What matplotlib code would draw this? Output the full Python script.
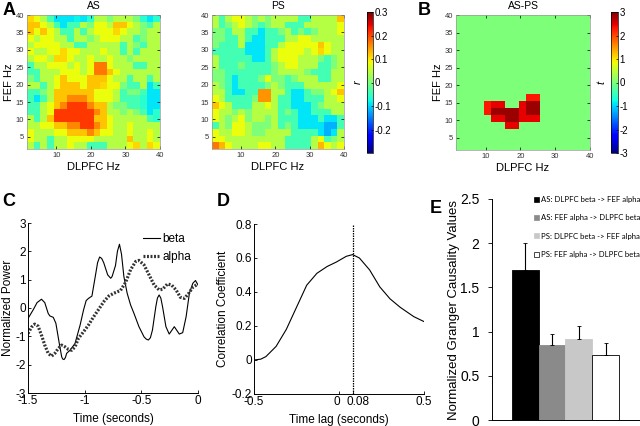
import numpy as np
import matplotlib
import matplotlib.pyplot as plt
import matplotlib.transforms as mtransforms
from matplotlib.patches import Patch

matplotlib.use('Agg')
plt.rcParams['font.family'] = ['Liberation Sans', 'DejaVu Sans']
plt.rcParams['axes.unicode_minus'] = False

# --- A: correlation maps (r), rows from FEF 40 Hz (top) down to 2 Hz, in hundredths
map_edges = np.linspace(1.5, 40, 21)
as_r = np.array([
    [11, 8, 4, -4, -9, -9, -9, -8, -9, -6, 4, 4, 0, 4, 4, 4, 0, -6, -9, -6],
    [12, 12, 8, 4, -4, -9, -4, -4, 4, 0, 8, 8, 4, 12, 12, 8, 4, 0, -4, 4],
    [12, 8, 12, 8, 4, -4, -4, 4, -4, 4, 8, 8, 8, 11, 8, 4, 4, 0, 4, 4],
    [8, 4, 8, 8, 4, 4, -4, 4, 4, 0, 4, 8, 8, 8, 4, 4, -4, 0, 4, 4],
    [4, 8, 8, 8, 8, 4, 4, -4, -4, 4, 4, 4, 4, 4, -4, 4, 0, -4, 4, 4],
    [8, 4, 4, 8, 8, 11, 8, 8, 4, 4, 4, 8, 4, 4, -4, 4, -4, 4, 4, 4],
    [4, 8, 8, 4, 11, 11, 8, 4, 4, 8, 4, 4, 8, 4, 4, 0, 4, 4, 4, 4],
    [-4, 4, 4, 8, 8, 8, 4, 8, 4, 8, 17, 17, 8, 4, 4, 4, -4, -4, 4, 4],
    [-4, -4, 4, 4, 4, 8, 8, 8, 4, 8, 17, 17, 12, 8, 4, 4, 4, 4, 4, 4],
    [0, -4, 4, 4, 8, 12, 8, 8, 8, 12, 12, 12, 8, 4, 4, -4, 4, 4, -4, 4],
    [4, 4, -4, 4, 8, 12, 12, 12, 8, 12, 12, 11, 8, 8, 0, -4, -4, 4, -9, -4],
    [-4, -4, 0, 4, 12, 12, 12, 12, 12, 12, 8, 8, 8, 4, -4, 0, 0, -4, -9, -9],
    [-4, -9, -4, 4, 12, 12, 16, 16, 16, 12, 8, 8, 8, 4, -4, -4, -4, -6, -9, -9],
    [-4, -4, 4, 8, 12, 16, 21, 21, 21, 16, 12, 12, 4, 0, 0, -4, -4, -6, -9, -9],
    [-4, -4, 4, 8, 21, 21, 21, 21, 21, 21, 16, 12, 4, 4, 0, 4, 0, -4, -9, -6],
    [4, -4, 4, 12, 21, 21, 21, 21, 21, 21, 12, 12, 8, 4, 4, 4, 4, 4, -4, -6],
    [4, 4, 8, 8, 12, 12, 16, 16, 21, 21, 16, 12, 8, 4, 4, 8, 4, 4, 4, 4],
    [8, 4, 4, 4, 8, 8, 12, 12, 12, 16, 12, 8, 8, 4, 4, 8, 4, 4, 8, 4],
    [8, 4, 4, -4, 4, 4, 8, 8, 8, 8, 4, 4, 4, 4, 4, 12, 4, 4, 8, 4],
    [4, -4, 4, -4, 4, 4, 8, 4, 4, -4, -4, -4, 4, 4, 4, 8, 11, 4, 11, 8],
]) / 100.0
ps_r = np.array([
    [4, -4, 4, 8, 8, 4, 0, 4, 0, 4, 4, 4, 4, -4, -4, 4, 4, 4, 4, 12],
    [4, -4, 0, 4, 8, 4, 0, -4, 0, 4, 4, -4, -4, -4, 4, 4, 4, 4, 4, 8],
    [0, 0, -4, 4, 4, -4, -4, -9, -4, -4, 0, 4, -4, 0, -4, 0, 4, 4, 4, 8],
    [0, 0, -4, -4, 4, -4, -9, -9, -4, -4, -4, 4, 4, 8, 8, 4, 4, 4, 4, 4],
    [0, -4, -4, -4, 4, -9, -9, -9, -4, -4, 4, 8, 8, 8, 8, 8, 12, 8, 4, 4],
    [-4, -4, -4, -4, -4, -9, -9, -9, -4, 4, 8, 8, 8, 8, 4, 8, 11, 8, 4, 4],
    [4, -4, -4, -4, -4, -4, -9, -9, -4, 4, 8, 8, 8, 4, 4, 4, 0, -4, 0, 4],
    [4, -4, -4, -4, 0, -4, -4, -4, -4, 0, 4, 8, 8, 4, 4, 4, -4, -4, 0, 4],
    [0, 0, -4, -4, -4, -4, -4, -4, -4, 0, 4, 4, 4, 4, 0, -4, -4, -4, 4, 4],
    [0, 0, -4, -9, -4, -4, -4, 0, 8, 0, 0, -4, 0, 4, 4, 4, -4, -4, 4, 4],
    [4, 0, -4, -9, -4, -4, -4, -4, 0, 4, 0, -4, -4, -4, 4, 4, 4, 4, 4, 8],
    [4, 4, -4, -9, -9, -4, -4, 15, 15, 4, 4, -4, -9, -9, -4, 0, 0, 4, 8, 12],
    [8, 4, -4, -4, -4, -4, 0, 15, 15, 4, -4, -4, -9, -9, -4, -4, -4, 4, 4, 8],
    [12, 8, 4, -4, -4, -4, 4, 4, 8, 4, -4, -4, -9, -9, -9, -4, 0, 4, 4, 4],
    [8, 4, 4, 0, 4, 0, 4, 4, 4, 4, -4, 0, -4, -9, -9, -4, -4, -4, 4, 4],
    [8, 4, 0, 4, 8, 0, 4, 4, 0, 4, -4, -4, -4, -9, -9, -9, -4, -9, -9, -4],
    [-4, 4, 0, 8, 8, 4, 0, 0, 0, 4, -4, 0, -4, -9, -9, -9, -9, -12, -12, -4],
    [8, 4, 4, 8, 8, 4, 0, 0, 4, 4, 4, 4, -4, -4, -4, -4, -9, -12, -9, 4],
    [8, 8, 4, 4, 4, 4, 4, 4, 4, 4, 4, -4, -4, -4, -4, 4, 8, -4, 0, 4],
    [17, 13, 8, 4, 4, 4, 4, 8, 8, 4, 4, -4, -4, -4, -4, 4, 13, 8, 4, 8],
]) / 100.0

# --- B: AS-PS t map, 2 Hz bins; only significant bins are non-zero
diff_edges = np.arange(1.5, 42.0, 2.0)
sig_dlpfc = [22.5, 24.5, 10.5, 12.5, 14.5, 20.5, 22.5, 24.5,
             10.5, 12.5, 14.5, 16.5, 18.5, 20.5, 22.5, 24.5,
             12.5, 14.5, 16.5, 18.5, 20.5, 22.5, 24.5, 16.5, 18.5]
sig_fef = [16.5, 16.5, 14.5, 14.5, 14.5, 14.5, 14.5, 14.5,
           12.5, 12.5, 12.5, 12.5, 12.5, 12.5, 12.5, 12.5,
           10.5, 10.5, 10.5, 10.5, 10.5, 10.5, 10.5, 8.5, 8.5]
sig_t = [2.3, 2.3, 2.3, 2.45, 2.45, 2.45, 2.85, 2.85,
         2.3, 2.85, 2.85, 2.85, 2.85, 2.45, 2.85, 2.85,
         2.45, 2.45, 2.85, 2.85, 2.45, 2.45, 2.45, 2.45, 2.45]

# --- C: normalized power
beta_t = [-1.5, -1.455, -1.42, -1.381, -1.352, -1.322, -1.307, -1.277, -1.254,
          -1.224, -1.203, -1.194, -1.182, -1.17, -1.159, -1.129, -1.085, -1.04,
          -1.01, -0.987, -0.966, -0.936, -0.907, -0.886, -0.868, -0.85, -0.832,
          -0.797, -0.77, -0.758, -0.728, -0.711, -0.693, -0.675, -0.654, -0.625,
          -0.595, -0.565, -0.521, -0.476, -0.456, -0.438, -0.42, -0.402, -0.372,
          -0.358, -0.343, -0.328, -0.313, -0.283, -0.254, -0.209, -0.165, -0.135,
          -0.105, -0.076, -0.046, -0.022, 0.0]
beta_v = [-0.37, -0.07, 0.19, 0.31, 0.19, -0.19, -0.28, -0.33, -0.54,
          -1.25, -1.72, -1.8, -1.82, -1.75, -1.6, -1.49, -1.25, -0.6,
          -0.07, 0.26, 0.34, 0.42, 1.1, 1.6, 1.8, 1.75, 1.6,
          1.17, 1.05, 1.11, 1.5, 2.0, 2.25, 1.9, 1.11, 0.52,
          0.11, -0.19, -0.66, -1.02, -1.1, -1.13, -1.05, -0.78, 0.05,
          0.35, 0.46, 0.35, 0.05, -0.66, -0.92, -0.66, -0.92, -0.87,
          -0.31, 0.52, 0.87, 0.97, 0.81]
alpha_t = [-1.5, -1.47, -1.441, -1.411, -1.381, -1.352, -1.322, -1.292, -1.263,
           -1.233, -1.203, -1.174, -1.144, -1.114, -1.085, -1.055, -1.01, -0.966,
           -0.921, -0.877, -0.832, -0.788, -0.743, -0.684, -0.639, -0.595, -0.55,
           -0.521, -0.476, -0.432, -0.387, -0.343, -0.313, -0.269, -0.233, -0.194,
           -0.156, -0.12, -0.085, -0.046, 0.0]
alpha_v = [-0.9, -0.68, -0.57, -0.64, -0.96, -1.31, -1.6, -1.7, -1.6,
           -1.43, -1.31, -1.37, -1.46, -1.49, -1.37, -1.07, -0.84, -0.6,
           -0.31, -0.05, 0.22, 0.42, 0.52, 0.62, 0.9, 1.35, 1.64,
           1.68, 1.52, 1.17, 0.81, 0.64, 0.66, 0.85, 0.81, 0.64,
           0.38, 0.34, 0.5, 0.73, 0.85]

# --- D: cross-correlation
lag_s = [-0.5, -0.46, -0.43, -0.37, -0.31, -0.25, -0.19, -0.13, -0.07, -0.016,
         0.043, 0.08, 0.12, 0.18, 0.24, 0.3, 0.36, 0.44, 0.5]
corr_v = [0.0, 0.005, 0.02, 0.08, 0.18, 0.31, 0.44, 0.51, 0.55, 0.576,
          0.61, 0.62, 0.6, 0.53, 0.43, 0.36, 0.31, 0.255, 0.226]
peak_lag = 0.08

# --- E: Granger causality
gc_labels = ['AS: DLPFC beta -> FEF alpha', 'AS: FEF alpha -> DLPFC beta',
             'PS: DLPFC beta -> FEF alpha', 'PS: FEF alpha -> DLPFC beta']
gc_vals = [1.7, 0.85, 0.92, 0.74]
gc_err = [0.3, 0.12, 0.14, 0.13]
gc_colors = ['black', '#8a8a8a', '#c8c8c8', 'white']

W, H = 640, 426
fig = plt.figure(figsize=(6.4, 4.26), dpi=100)


def px_axes(x0, y0, x1, y1):
    return fig.add_axes([x0 / W, 1 - y1 / H, (x1 - x0) / W, (y1 - y0) / H])


def style_map(ax, title):
    ax.set_xlim(1.5, 40)
    ax.set_ylim(1.5, 40)
    ax.set_xticks([10, 20, 30, 40])
    ax.set_yticks([5, 10, 15, 20, 25, 30, 35, 40])
    ax.tick_params(direction='in', length=2, width=0.5, labelsize=5.5,
                   labelcolor='#333333', pad=2, top=True, right=True)
    for s in ax.spines.values():
        s.set_color('#999999')
        s.set_linewidth(0.5)
    ax.set_title(title, fontsize=7.5, pad=4)
    ax.set_xlabel('DLPFC Hz', fontsize=8, labelpad=2)
    ax.set_ylabel('FEF Hz', fontsize=8, labelpad=1)


def style_cbar(cb, ticks, labels, name):
    cb.set_ticks(ticks)
    cb.set_ticklabels(labels)
    cb.ax.tick_params(labelsize=7, length=1.5, width=0.5, direction='in', pad=1)
    cb.outline.set_linewidth(0.5)
    cb.ax.yaxis.set_label_position('left')
    cb.ax.set_ylabel(name, fontsize=8, style='italic', labelpad=3)


ax_as = px_axes(27, 15, 160, 149)
m1 = ax_as.pcolormesh(map_edges, map_edges, as_r[::-1], cmap='jet', vmin=-0.3, vmax=0.3)
style_map(ax_as, 'AS')

ax_ps = px_axes(212, 15, 344, 149)
ax_ps.pcolormesh(map_edges, map_edges, ps_r[::-1], cmap='jet', vmin=-0.3, vmax=0.3)
style_map(ax_ps, 'PS')
ax_ps.set_ylabel('')

cax1 = px_axes(367, 12, 373, 153)
cb1 = fig.colorbar(m1, cax=cax1)
style_cbar(cb1, [-0.2, -0.1, 0, 0.1, 0.2, 0.3],
           ['-0.2', '-0.1', '0', '0.1', '0.2', '0.3'], 'r')

diff_t = np.zeros((20, 20))
centers = diff_edges[:-1] + 1.0
for xd, yf, tv in zip(sig_dlpfc, sig_fef, sig_t):
    diff_t[np.argmin(abs(centers - yf)), np.argmin(abs(centers - xd))] = tv
ax_b = px_axes(456, 15, 590, 150)
m2 = ax_b.pcolormesh(diff_edges, diff_edges, diff_t, cmap='jet', vmin=-3, vmax=3)
style_map(ax_b, 'AS-PS')

cax2 = px_axes(611, 12, 618, 153)
cb2 = fig.colorbar(m2, cax=cax2)
style_cbar(cb2, [-3, -2, -1, 0, 1, 2, 3],
           ['-3', '-2', '-1', '0', '1', '2', '3'], 't')


def style_line_ax(ax):
    ax.spines['top'].set_visible(False)
    ax.spines['right'].set_visible(False)
    for s in ('left', 'bottom'):
        ax.spines[s].set_linewidth(0.7)
    ax.tick_params(direction='in', length=2.5, width=0.6, labelsize=8.5, pad=1.5)


ax_c = px_axes(28, 223, 198, 393)
ax_c.plot(beta_t, beta_v, color='black', lw=0.8, label='beta')
ax_c.plot(alpha_t, alpha_v, color='#333333', lw=2.3, ls=(0, (0.6, 0.5)), label='alpha')
ax_c.set_xlim(-1.5, 0)
ax_c.set_ylim(-3, 3)
ax_c.set_xticks([-1.5, -1, -0.5, 0])
ax_c.set_xticklabels(['-1.5', '-1', '-0.5', '0'])
ax_c.set_yticks([-3, -2, -1, 0, 1, 2, 3])
style_line_ax(ax_c)
ax_c.set_xlabel('Time (seconds)', fontsize=8.5, labelpad=4)
ax_c.set_ylabel('Normalized Power', fontsize=8.5, labelpad=1)
ax_c.legend(loc='upper right', bbox_to_anchor=(1.0, 0.985), frameon=False, fontsize=8.5,
            handlelength=1.4, handletextpad=0.2, labelspacing=0.55, borderaxespad=0.2)

ax_d = px_axes(254, 224, 424, 394)
ax_d.plot(lag_s, corr_v, color='black', lw=0.8)
ax_d.axvline(peak_lag, color='black', lw=0.9, ls=(0, (1.2, 0.8)))
ax_d.set_xlim(-0.5, 0.5)
ax_d.set_ylim(-0.2, 0.8)
ax_d.set_xticks([-0.5, 0, 0.08, 0.5])
ax_d.set_xticklabels(['-0.5', '0', '0.08', '0.5'])
ax_d.set_yticks([-0.2, 0, 0.2, 0.4, 0.6, 0.8])
ax_d.set_yticklabels(['-0.2', '0', '0.2', '0.4', '0.6', '0.8'])
style_line_ax(ax_d)
# nudge the crowded "0" / "0.08" labels apart as in the original
tl = ax_d.get_xticklabels()
tl[1].set_transform(tl[1].get_transform() + mtransforms.ScaledTranslation(-2 / 100, 0, fig.dpi_scale_trans))
tl[2].set_transform(tl[2].get_transform() + mtransforms.ScaledTranslation(5 / 100, 0, fig.dpi_scale_trans))
ax_d.set_xlabel('Time lag (seconds)', fontsize=8.5, labelpad=4)
ax_d.set_ylabel('Correlation Coefficient', fontsize=8.5, labelpad=2)

ax_e = px_axes(492, 199, 640, 420)
pos = np.arange(1, 5)
ax_e.bar(pos, gc_vals, width=1.0, color=gc_colors,
         edgecolor=['black', '#8a8a8a', '#c8c8c8', 'black'], linewidth=0.6)
ax_e.errorbar(pos, gc_vals, yerr=[np.zeros(4), gc_err], fmt='none', ecolor='black',
              elinewidth=0.8, capsize=1.5, capthick=0.6)
ax_e.set_xlim(-0.25, 5.29)
ax_e.set_ylim(0, 2.5)
ax_e.set_xticks([])
ax_e.set_yticks([0, 0.5, 1, 1.5, 2, 2.5])
ax_e.set_yticklabels(['0', '0.5', '1', '1.5', '2', '2.5'])
ax_e.spines['top'].set_visible(False)
ax_e.spines['right'].set_visible(False)
ax_e.spines['left'].set_linewidth(0.7)
ax_e.spines['bottom'].set_linewidth(0.7)
ax_e.tick_params(axis='y', direction='out', length=3, width=0.6, labelsize=10, pad=6)
ax_e.set_ylabel('Normalized Granger Causality Values', fontsize=9.5, labelpad=0)
handles = [Patch(facecolor=c, edgecolor=('black' if c == 'white' else c), linewidth=0.5)
           for c in gc_colors]
ax_e.legend(handles, gc_labels, loc='upper left', bbox_to_anchor=(534 / W, 1 - 196 / H),
            bbox_transform=fig.transFigure, frameon=False,
            prop={'family': 'Lato', 'size': 5.6}, handlelength=0.6, handleheight=0.6,
            handletextpad=0.3, labelspacing=1.45, borderpad=0, borderaxespad=0)

for letter, x, y in [('A', 3, 2), ('B', 418, 2), ('C', 2, 193), ('D', 217, 193), ('E', 430, 200)]:
    fig.text(x / W, 1 - y / H, letter, fontsize=13, fontweight='bold', va='top', ha='left')

fig.savefig('out.png', dpi=100)
